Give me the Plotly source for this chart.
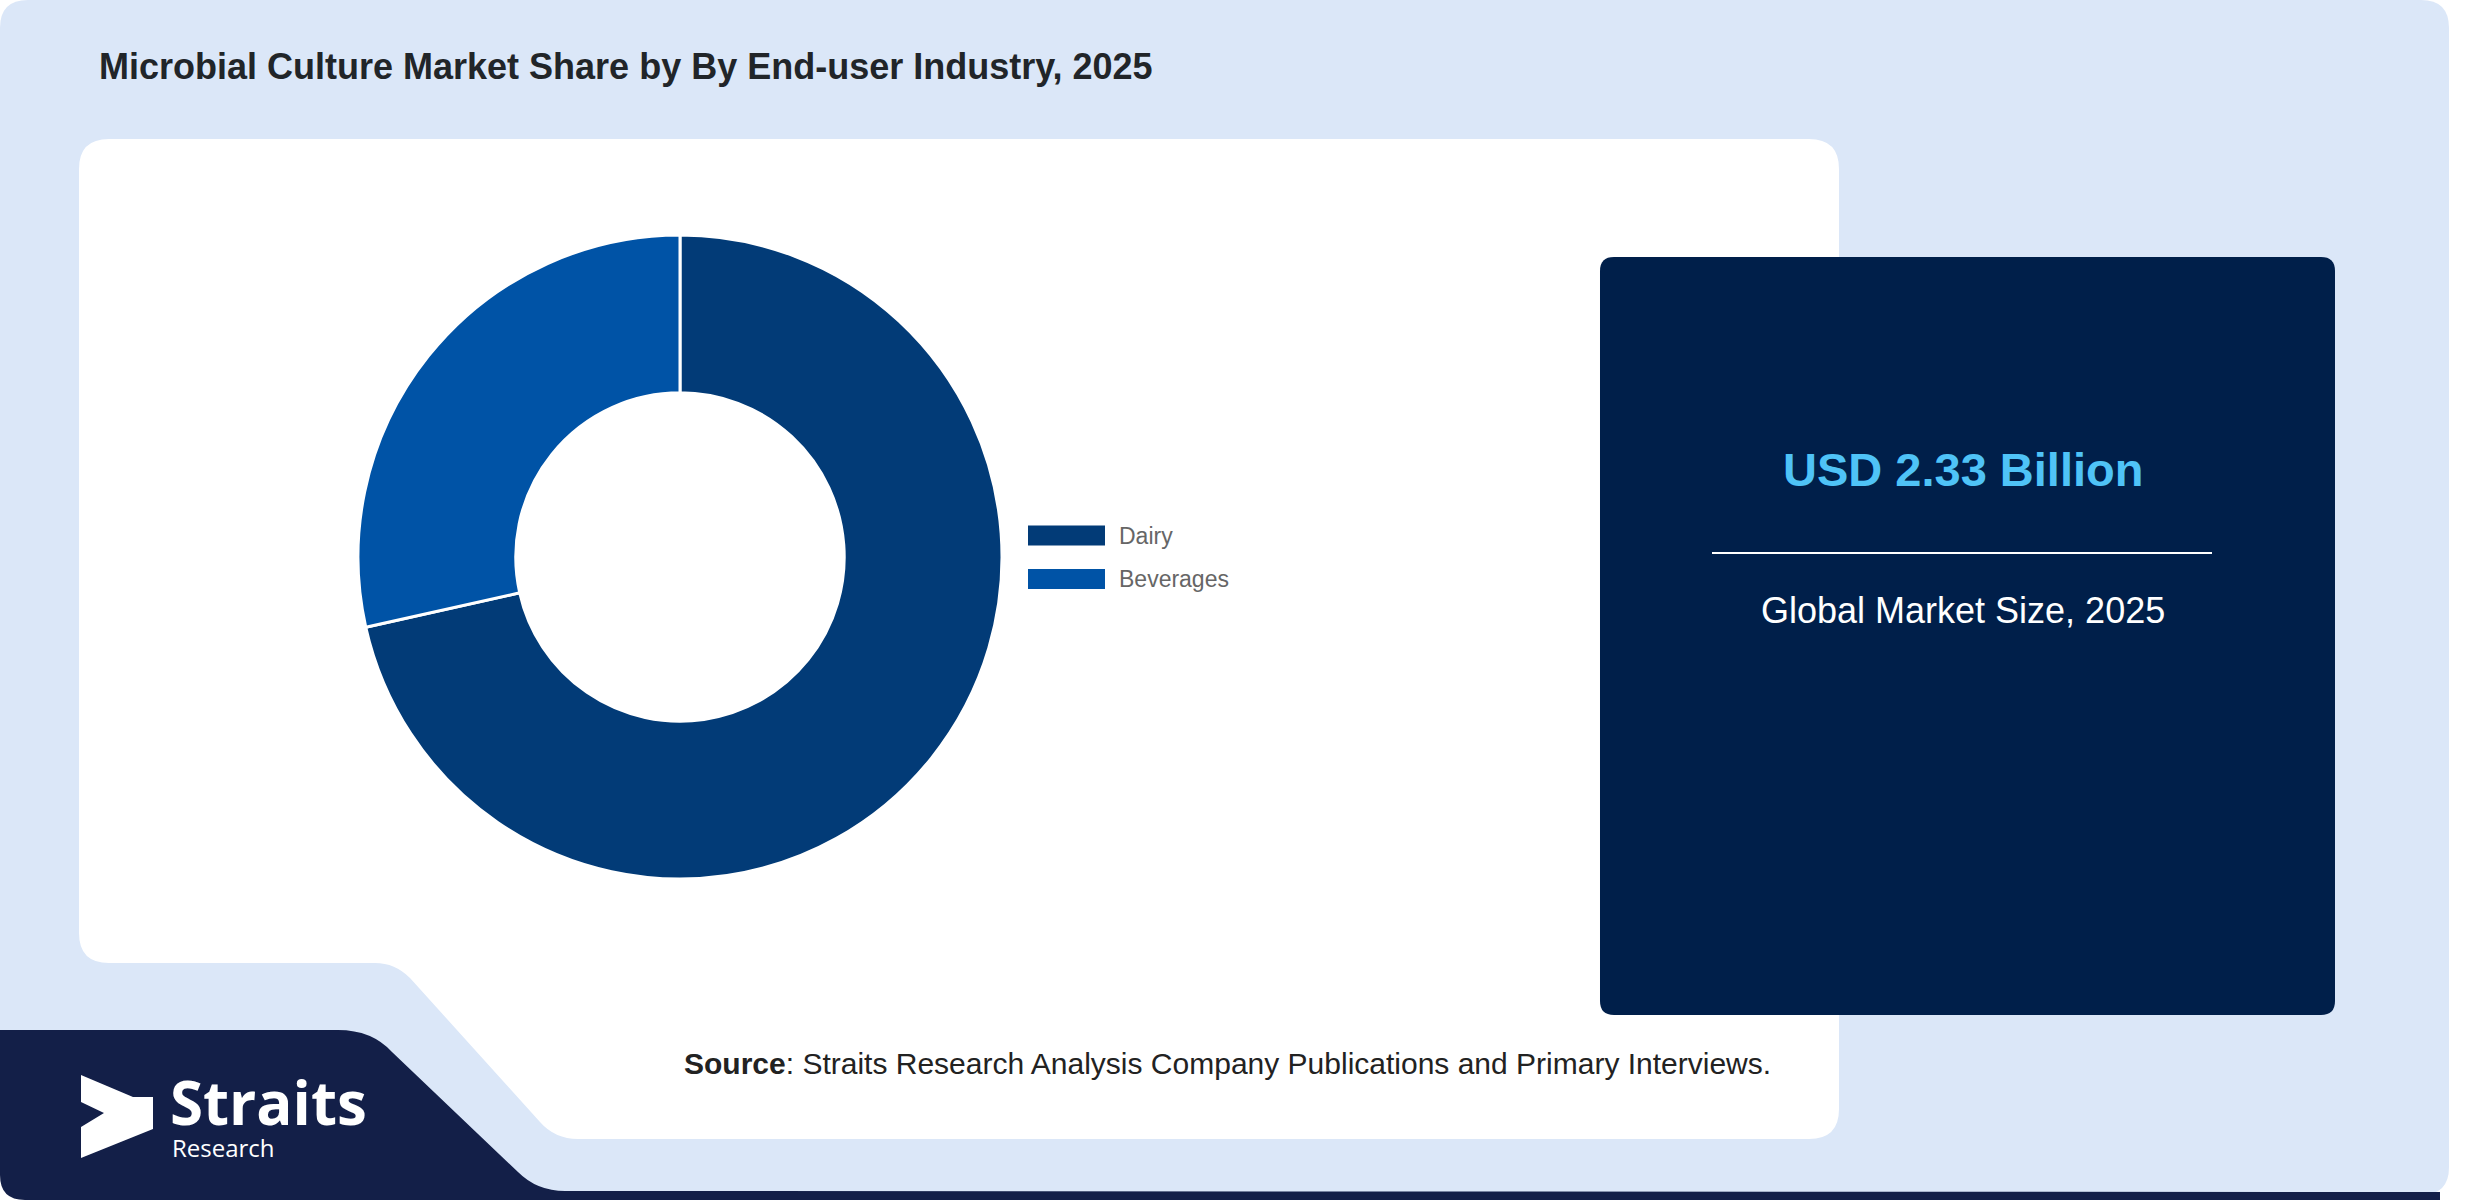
import plotly.graph_objects as go

# chart values
segments = ["Dairy", "Beverages"]
shares = [71.5, 28.5]
seg_colors = ["#023b77", "#0053a6"]

title_text = "Microbial Culture Market Share by By End-user Industry, 2025"
market_value = "USD 2.33 Billion"
market_label = "Global Market Size, 2025"
source_text = "<b>Source</b>: Straits Research Analysis Company Publications and Primary Interviews."

W, H = 2480, 1200
FONT = "Liberation Sans, Arial, sans-serif"


def fx(x):
    return x / W


def fy(y):
    return 1 - y / H


def make_path(cmds):
    out = []
    for c in cmds:
        if c[0] == "Z":
            out.append("Z")
            continue
        nums = c[1:]
        pts = []
        for i in range(0, len(nums), 2):
            pts.append(f"{fx(nums[i]):.6f},{fy(nums[i + 1]):.6f}")
        out.append(c[0] + " " + " ".join(pts))
    return " ".join(out)


def rounded_rect(x0, y0, x1, y1, r):
    return make_path([
        ("M", x0 + r, y0), ("L", x1 - r, y0), ("Q", x1, y0, x1, y0 + r),
        ("L", x1, y1 - r), ("Q", x1, y1, x1 - r, y1),
        ("L", x0 + r, y1), ("Q", x0, y1, x0, y1 - r),
        ("L", x0, y0 + r), ("Q", x0, y0, x0 + r, y0), ("Z",),
    ])


shapes = []
# light card background
shapes.append(dict(type="path", path=rounded_rect(0, 0, 2449, 1195, 28),
                   fillcolor="#dbe7f8", line_width=0, layer="below"))
# navy footer band with logo
shapes.append(dict(type="path", path=make_path([
    ("M", 0, 1030), ("L", 338, 1030), ("Q", 372, 1030, 392, 1052),
    ("L", 518, 1172), ("Q", 537, 1191, 565, 1191),
    ("L", 2440, 1192), ("L", 2440, 1200), ("L", 25, 1200),
    ("Q", 0, 1200, 0, 1175), ("Z",),
]), fillcolor="#131f48", line_width=0, layer="below"))
# white chart panel with notch
shapes.append(dict(type="path", path=make_path([
    ("M", 109, 139), ("L", 1809, 139), ("Q", 1839, 139, 1839, 169),
    ("L", 1839, 1109), ("Q", 1839, 1139, 1809, 1139),
    ("L", 578, 1139), ("Q", 555, 1139, 540, 1122),
    ("L", 410, 978), ("Q", 395, 963, 375, 963),
    ("L", 109, 963), ("Q", 79, 963, 79, 933),
    ("L", 79, 169), ("Q", 79, 139, 109, 139), ("Z",),
]), fillcolor="#ffffff", line_width=0, layer="below"))
# market size box
shapes.append(dict(type="path", path=rounded_rect(1600, 257, 2335, 1015, 14),
                   fillcolor="#001f4a", line_width=0, layer="below"))
shapes.append(dict(type="line", xref="paper", yref="paper",
                   x0=fx(1712), x1=fx(2212), y0=fy(553), y1=fy(553),
                   line=dict(color="#ffffff", width=2), layer="below"))
# logo mark
shapes.append(dict(type="path", path=make_path([
    ("M", 81, 1075), ("L", 133, 1097), ("L", 153, 1097), ("L", 153, 1129),
    ("L", 81, 1158), ("L", 81, 1127), ("L", 104, 1113), ("L", 81, 1102), ("Z",),
]), fillcolor="#ffffff", line_width=0, layer="below"))

annotations = [
    dict(text=f"<b>{title_text}</b>", x=fx(97), y=fy(66), xanchor="left", yanchor="middle",
         font=dict(family=FONT, size=36, color="#212529")),
    dict(text=f"<b>{market_value}</b>", x=fx(1963), y=fy(470), xanchor="center", yanchor="middle",
         font=dict(family=FONT, size=47, color="#4fc3f7")),
    dict(text=market_label, x=fx(1963), y=fy(610), xanchor="center", yanchor="middle",
         font=dict(family=FONT, size=36, color="#ffffff")),
    dict(text=source_text, x=fx(682), y=fy(1063), xanchor="left", yanchor="middle",
         font=dict(family=FONT, size=30, color="#222222")),
    dict(text="<b>Straits</b>", x=fx(168), y=fy(1102), xanchor="left", yanchor="middle",
         font=dict(family="Open Sans, sans-serif", size=60, color="#ffffff")),
    dict(text="Research", x=fx(170), y=fy(1147), xanchor="left", yanchor="middle",
         font=dict(family="Open Sans, sans-serif", size=24, color="#ffffff")),
]

# legend drawn by hand (wide swatches)
for i, (name, col) in enumerate(zip(segments, seg_colors)):
    yc = 535.5 + i * 43.5
    shapes.append(dict(type="rect", xref="paper", yref="paper",
                       x0=fx(1028), x1=fx(1105), y0=fy(yc - 10), y1=fy(yc + 10),
                       fillcolor=col, line_width=0))
    annotations.append(dict(text=name, x=fx(1117), y=fy(yc), xanchor="left", yanchor="middle",
                            font=dict(family=FONT, size=23, color="#666666")))

for a in annotations:
    a.update(xref="paper", yref="paper", showarrow=False)
for s in shapes:
    s.setdefault("xref", "paper")
    s.setdefault("yref", "paper")

cx, cy, r = 680, 557, 322
fig = go.Figure(go.Pie(
    labels=segments, values=shares, hole=0.51, sort=False, direction="clockwise",
    rotation=0, textinfo="none", hoverinfo="label+percent",
    marker=dict(colors=seg_colors, line=dict(color="#ffffff", width=3)),
    domain=dict(x=[fx(cx - r), fx(cx + r)], y=[fy(cy + r), fy(cy - r)]),
))
fig.update_layout(width=W, height=H, margin=dict(l=0, r=0, t=0, b=0),
                  paper_bgcolor="#ffffff", showlegend=False,
                  shapes=shapes, annotations=annotations)
fig.write_html("out.html", config={"displayModeBar": False},
               post_script="document.body.style.margin='0';")
